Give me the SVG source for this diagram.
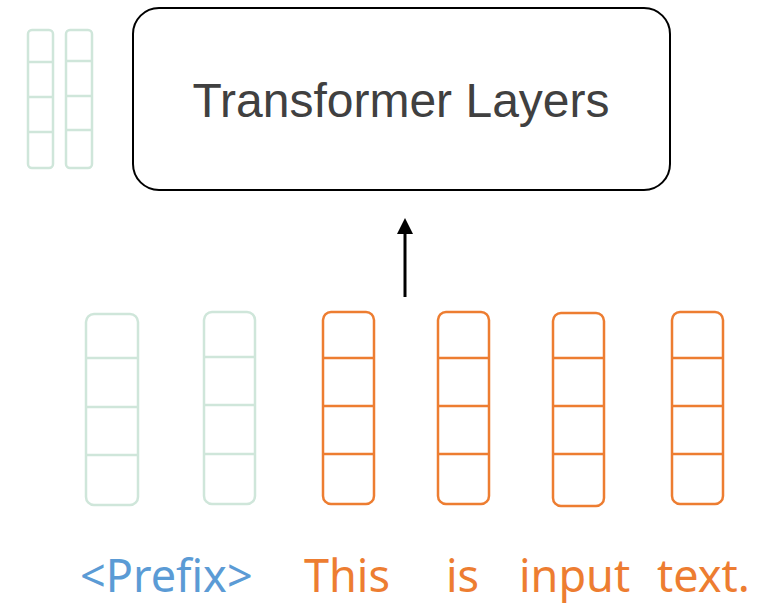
<svg xmlns="http://www.w3.org/2000/svg" width="777" height="604" viewBox="0 0 777 604">
  <style>
    .bar { fill: none; stroke-width: 2.5; }
    .pre { stroke: #cfe6da; }
    .tok { stroke: #ed7d31; }
    .lbl { font-family: "Noto Sans", "Open Sans", sans-serif; font-size: 45px; }
  </style>
  <defs>
    <marker id="arrowhead" markerWidth="16" markerHeight="16" refX="2" refY="8" orient="auto" markerUnits="userSpaceOnUse">
      <path d="M0,0 L16,8 L0,16 Z" fill="#000"/>
    </marker>
  </defs>
  <rect width="777" height="604" fill="#fff"/>

  <!-- small prefix vectors beside the layer stack -->
  <g id="prefix-small-1" class="bar pre">
    <rect x="28" y="30" width="25" height="138" rx="4"/>
    <line x1="28" y1="62" x2="53" y2="62"/>
    <line x1="28" y1="97" x2="53" y2="97"/>
    <line x1="28" y1="132" x2="53" y2="132"/>
  </g>
  <g id="prefix-small-2" class="bar pre">
    <rect x="66" y="30" width="26" height="138" rx="4"/>
    <line x1="66" y1="61" x2="92" y2="61"/>
    <line x1="66" y1="96" x2="92" y2="96"/>
    <line x1="66" y1="130" x2="92" y2="130"/>
  </g>

  <!-- transformer block -->
  <g id="transformer">
    <rect x="133" y="8" width="537" height="182" rx="26" fill="#fff" stroke="#000" stroke-width="2"/>
    <text x="401" y="117" text-anchor="middle" font-family="Liberation Sans, Arial, sans-serif" font-size="48" fill="#404040">Transformer Layers</text>
  </g>

  <!-- input vectors -->
  <g id="prefix-1" class="bar pre">
    <rect x="86" y="314" width="52" height="191" rx="8"/>
    <line x1="86" y1="358" x2="138" y2="358"/>
    <line x1="86" y1="407" x2="138" y2="407"/>
    <line x1="86" y1="455" x2="138" y2="455"/>
  </g>
  <g id="prefix-2" class="bar pre">
    <rect x="204" y="312" width="51" height="192" rx="8"/>
    <line x1="204" y1="357" x2="255" y2="357"/>
    <line x1="204" y1="405" x2="255" y2="405"/>
    <line x1="204" y1="454" x2="255" y2="454"/>
  </g>
  <g id="token-this" class="bar tok">
    <rect x="323" y="312" width="51" height="192" rx="8"/>
    <line x1="323" y1="358" x2="374" y2="358"/>
    <line x1="323" y1="406" x2="374" y2="406"/>
    <line x1="323" y1="454" x2="374" y2="454"/>
  </g>
  <g id="token-is" class="bar tok">
    <rect x="438" y="312" width="51" height="192" rx="8"/>
    <line x1="438" y1="358" x2="489" y2="358"/>
    <line x1="438" y1="406" x2="489" y2="406"/>
    <line x1="438" y1="454" x2="489" y2="454"/>
  </g>
  <g id="token-input" class="bar tok">
    <rect x="553" y="313" width="51" height="193" rx="8"/>
    <line x1="553" y1="358" x2="604" y2="358"/>
    <line x1="553" y1="406" x2="604" y2="406"/>
    <line x1="553" y1="454" x2="604" y2="454"/>
  </g>
  <g id="token-text" class="bar tok">
    <rect x="672" y="312" width="51" height="192" rx="8"/>
    <line x1="672" y1="358" x2="723" y2="358"/>
    <line x1="672" y1="406" x2="723" y2="406"/>
    <line x1="672" y1="454" x2="723" y2="454"/>
  </g>

  <!-- connector -->
  <g id="connectors">
    <line x1="405" y1="297" x2="405" y2="232" stroke="#000" stroke-width="3" marker-end="url(#arrowhead)"/>
  </g>

  <!-- token labels -->
  <g id="labels" class="lbl">
    <text x="80" y="592" fill="#5b9bd5">&lt;Prefix&gt;</text>
    <text x="304" y="592" fill="#ed7d31">This</text>
    <text x="446" y="592" fill="#ed7d31">is</text>
    <text x="519" y="592" fill="#ed7d31">input</text>
    <text x="657" y="592" fill="#ed7d31">text.</text>
  </g>
</svg>
